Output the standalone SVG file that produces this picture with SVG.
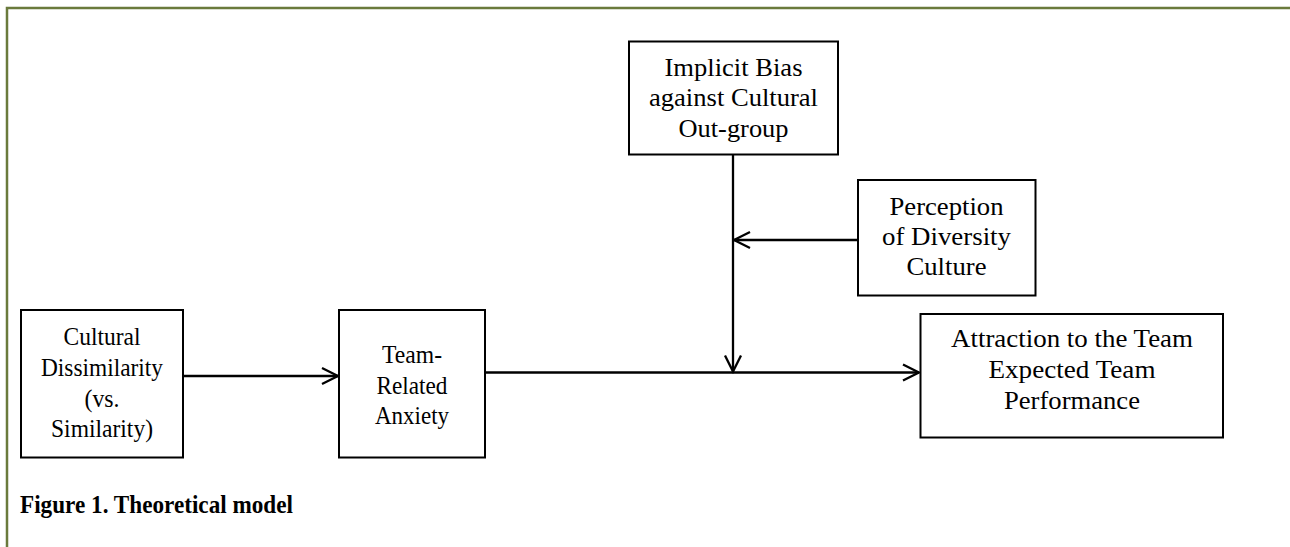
<svg xmlns="http://www.w3.org/2000/svg" width="1290" height="547" viewBox="0 0 1290 547">
<defs>
<style>
.box{fill:#fff;stroke:#000;stroke-width:2}
.t{font-family:"Liberation Serif","Times New Roman",serif;font-size:26px;fill:#000;text-anchor:middle}
.cap{font-family:"Liberation Serif","Times New Roman",serif;font-size:25px;font-weight:bold;fill:#000}
.ln{stroke:#000;stroke-width:2.3;fill:none}
</style>
<marker id="ah" viewBox="-18 -10 20 20" refX="0" refY="0" markerWidth="20" markerHeight="20" markerUnits="userSpaceOnUse" orient="auto">
<path d="M-16,-8 L0,0 L-16,8" fill="none" stroke="#000" stroke-width="2.3"/>
</marker>
</defs>
<rect width="1290" height="547" fill="#fff"/>
<path d="M7,547 V8 H1290" fill="none" stroke="#6a7a3c" stroke-width="2.5"/>
<g id="connectors">
<line class="ln" x1="183" y1="376" x2="338" y2="376" marker-end="url(#ah)"/>
<line class="ln" x1="485" y1="372.5" x2="919" y2="372.5" marker-end="url(#ah)"/>
<line class="ln" x1="733" y1="155" x2="733" y2="371.5" marker-end="url(#ah)"/>
<line class="ln" x1="858" y1="240" x2="734" y2="240" marker-end="url(#ah)"/>
</g>
<g id="n-cultural">
<rect class="box" x="21" y="310" width="162" height="147.5"/>
<text class="t" x="102" y="345" textLength="77" lengthAdjust="spacingAndGlyphs">Cultural</text>
<text class="t" x="102" y="376" textLength="122" lengthAdjust="spacingAndGlyphs">Dissimilarity</text>
<text class="t" x="102" y="407" textLength="35" lengthAdjust="spacingAndGlyphs">(vs.</text>
<text class="t" x="102" y="437" textLength="102" lengthAdjust="spacingAndGlyphs">Similarity)</text>
</g>
<g id="n-anxiety">
<rect class="box" x="339" y="310" width="146" height="147.5"/>
<text class="t" x="412" y="362.5" textLength="60" lengthAdjust="spacingAndGlyphs">Team-</text>
<text class="t" x="412" y="393.5" textLength="71" lengthAdjust="spacingAndGlyphs">Related</text>
<text class="t" x="412" y="424" textLength="74" lengthAdjust="spacingAndGlyphs">Anxiety</text>
</g>
<g id="n-bias">
<rect class="box" x="629" y="41.5" width="209" height="113"/>
<text class="t" x="733.5" y="76" textLength="138" lengthAdjust="spacingAndGlyphs">Implicit Bias</text>
<text class="t" x="733.5" y="106" textLength="169" lengthAdjust="spacingAndGlyphs">against Cultural</text>
<text class="t" x="733.5" y="136.5" textLength="110" lengthAdjust="spacingAndGlyphs">Out-group</text>
</g>
<g id="n-perception">
<rect class="box" x="858" y="180" width="177.5" height="115.5"/>
<text class="t" x="946.5" y="215" textLength="114" lengthAdjust="spacingAndGlyphs">Perception</text>
<text class="t" x="946.5" y="244.5" textLength="129" lengthAdjust="spacingAndGlyphs">of Diversity</text>
<text class="t" x="946.5" y="275" textLength="80" lengthAdjust="spacingAndGlyphs">Culture</text>
</g>
<g id="n-attraction">
<rect class="box" x="920.5" y="314" width="302.5" height="123.5"/>
<text class="t" x="1072" y="346.5" textLength="242" lengthAdjust="spacingAndGlyphs">Attraction to the Team</text>
<text class="t" x="1072" y="378" textLength="167" lengthAdjust="spacingAndGlyphs">Expected Team</text>
<text class="t" x="1072" y="409" textLength="136" lengthAdjust="spacingAndGlyphs">Performance</text>
</g>
<text class="cap" x="20" y="513" textLength="273" lengthAdjust="spacingAndGlyphs">Figure 1. Theoretical model</text>
</svg>
